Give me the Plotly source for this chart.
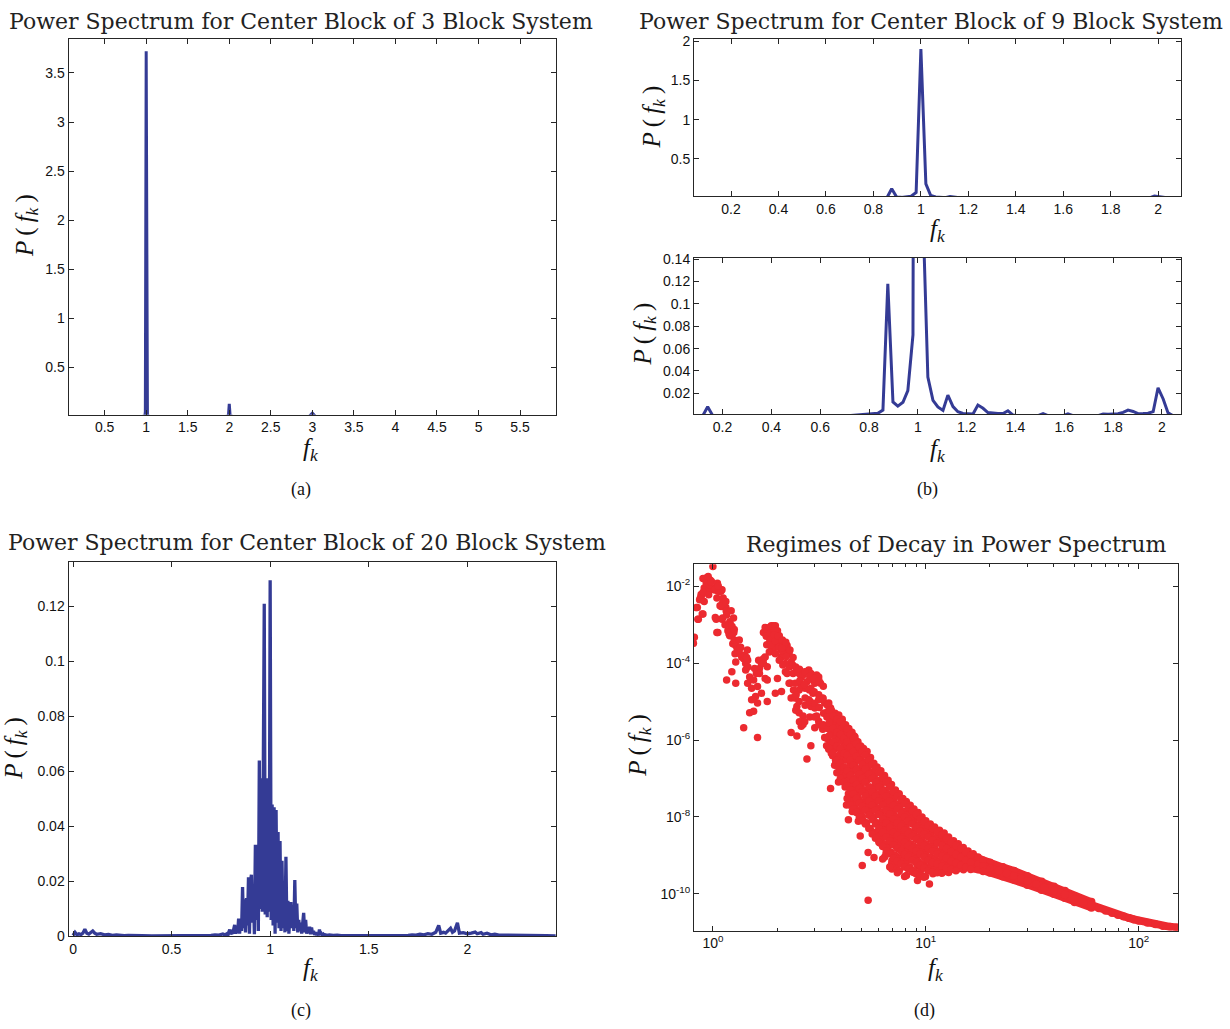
import numpy as np
import plotly.graph_objects as go

BLUE = "#343b95"
RED = "#ec2a30"
AXC = "#262626"

# ---------------- (a) 3 block system ----------------
A_F = [0.065, 0.950, 0.985, 0.990, 1.000, 1.010, 1.015, 1.050, 1.950, 1.990, 2.000, 2.010, 2.050,
       2.960, 3.000, 3.040, 5.930]
A_P = [0.0, 0.0, 0.01, 0.05, 3.72, 0.05, 0.01, 0.0, 0.0, 0.01, 0.13, 0.01, 0.0,
       0.0, 0.035, 0.0, 0.0]

# ---------------- (b) 9 block system ----------------
B_F = [0.037, 0.119, 0.139, 0.160,
       0.713, 0.734, 0.754, 0.775, 0.795, 0.816, 0.836, 0.857, 0.877, 0.898, 0.918, 0.939, 0.959, 0.980,
       1.000, 1.021, 1.041, 1.062, 1.082, 1.103, 1.123, 1.144, 1.164, 1.185, 1.205, 1.226, 1.246, 1.267,
       1.287, 1.308, 1.328, 1.349, 1.369, 1.390, 1.410,
       1.492, 1.513, 1.533, 1.595, 1.615, 1.636,
       1.738, 1.759, 1.779, 1.800, 1.820, 1.841, 1.861, 1.882, 1.902, 1.923, 1.943, 1.964, 1.984, 2.005,
       2.025, 2.046, 2.100]
B_P = [0.0, 0.0, 0.0080, 0.0,
       0.0, 0.0003, 0.0010, 0.0011, 0.0012, 0.0014, 0.0022, 0.0050, 0.1180, 0.0123, 0.0086, 0.0120, 0.0225, 0.0722,
       1.9000, 0.1800, 0.0345, 0.0138, 0.0079, 0.0047, 0.0184, 0.0082, 0.0035, 0.0020, 0.0017, 0.0015, 0.0095, 0.0066,
       0.0028, 0.0021, 0.0020, 0.0019, 0.0044, 0.0006, 0.0,
       0.0, 0.0018, 0.0, 0.0, 0.0016, 0.0,
       0.0, 0.0016, 0.0013, 0.0014, 0.0017, 0.0030, 0.0050, 0.0038, 0.0018, 0.0019, 0.0022, 0.0036, 0.0250, 0.0150,
       0.0025, 0.0, 0.0]

# ---------------- (c) 20 block system ----------------
C_F = [0.000, 0.010, 0.020, 0.030, 0.040, 0.050, 0.060, 0.070, 0.080, 0.090,
       0.100, 0.110, 0.120, 0.140, 0.160, 0.180, 0.200, 0.220, 0.240, 0.260,
       0.280, 0.300, 0.350, 0.400, 0.450, 0.500, 0.550, 0.600, 0.650, 0.700,
       0.720, 0.740, 0.760, 0.770,
       0.780, 0.785, 0.790, 0.795, 0.800, 0.805, 0.810, 0.815, 0.820, 0.825,
       0.830, 0.835, 0.840, 0.845, 0.850, 0.855, 0.860, 0.865, 0.870, 0.875,
       0.880, 0.885, 0.890, 0.895, 0.900, 0.905, 0.910, 0.915, 0.920, 0.925,
       0.930, 0.935, 0.940, 0.945, 0.950, 0.955, 0.960, 0.965, 0.970, 0.975,
       0.980, 0.985, 0.990, 0.995, 1.000, 1.005, 1.010, 1.015, 1.020, 1.025,
       1.030, 1.035, 1.040, 1.045, 1.050, 1.055, 1.060, 1.065, 1.070, 1.075,
       1.080, 1.085, 1.090, 1.095, 1.100, 1.105, 1.110, 1.115, 1.120, 1.125,
       1.130, 1.135, 1.140, 1.145, 1.150, 1.155, 1.160, 1.165, 1.170, 1.175,
       1.180, 1.185, 1.190, 1.195, 1.200, 1.205, 1.210, 1.215, 1.220, 1.225,
       1.230, 1.235, 1.240, 1.245, 1.250, 1.255, 1.260, 1.265, 1.270, 1.275,
       1.280,
       1.290, 1.300, 1.320, 1.340, 1.360, 1.400, 1.450, 1.500, 1.550, 1.600,
       1.650, 1.700, 1.720, 1.740, 1.760, 1.780, 1.800, 1.820, 1.840, 1.855,
       1.865, 1.880, 1.890, 1.905, 1.915, 1.925, 1.935, 1.950, 1.960, 1.980,
       2.000, 2.020, 2.040, 2.050, 2.070, 2.080, 2.100, 2.120, 2.140, 2.160,
       2.200, 2.250, 2.300, 2.350, 2.400, 2.449]
C_P = [0.0004, 0.0015, 0.0006, 0.0010, 0.0007, 0.0012, 0.0026, 0.0012, 0.0009, 0.0016,
       0.0020, 0.0012, 0.0008, 0.0010, 0.0006, 0.0007, 0.0004, 0.0006, 0.0004, 0.0003,
       0.0004, 0.0003, 0.0003, 0.0002, 0.0002, 0.0003, 0.0002, 0.0003, 0.0003, 0.0004,
       0.0006, 0.0005, 0.0009, 0.0006,
       0.0010, 0.0003, 0.0015, 0.0025, 0.0008, 0.0015, 0.0010, 0.0030, 0.0042, 0.0010,
       0.0035, 0.0012, 0.0065, 0.0010, 0.0060, 0.0020, 0.0180, 0.0030, 0.0135, 0.0015,
       0.0140, 0.0040, 0.0215, 0.0010, 0.0200, 0.0224, 0.0050, 0.0160, 0.0008, 0.0333,
       0.0060, 0.0333, 0.0020, 0.0640, 0.0100, 0.0575, 0.0090, 0.0575, 0.1210, 0.0080,
       0.0575, 0.0070, 0.0575, 0.0090, 0.1295, 0.0060, 0.0480, 0.0040, 0.0470, 0.0010,
       0.0460, 0.0050, 0.0380, 0.0030, 0.0347, 0.0020, 0.0275, 0.0030, 0.0130, 0.0015,
       0.0290, 0.0020, 0.0130, 0.0010, 0.0100, 0.0125, 0.0030, 0.0100, 0.0020, 0.0205,
       0.0030, 0.0120, 0.0015, 0.0060, 0.0020, 0.0050, 0.0010, 0.0040, 0.0086, 0.0015,
       0.0060, 0.0010, 0.0030, 0.0012, 0.0035, 0.0008, 0.0033, 0.0010, 0.0020, 0.0006,
       0.0015, 0.0005, 0.0012, 0.0004, 0.0025, 0.0006, 0.0010, 0.0004, 0.0008, 0.0003,
       0.0006,
       0.0004, 0.0006, 0.0004, 0.0005, 0.0003, 0.0003, 0.0002, 0.0003, 0.0002, 0.0002,
       0.0003, 0.0004, 0.0006, 0.0005, 0.0008, 0.0006, 0.0010, 0.0008, 0.0015, 0.0040,
       0.0012, 0.0015, 0.0012, 0.0025, 0.0030, 0.0015, 0.0020, 0.0050, 0.0012, 0.0014,
       0.0010, 0.0012, 0.0016, 0.0010, 0.0014, 0.0008, 0.0012, 0.0006, 0.0008, 0.0005,
       0.0005, 0.0004, 0.0004, 0.0003, 0.0003, 0.0002]

# ---------------- (d) regimes of decay (log-log scatter) ----------------
D_F = [0.81, 0.818, 0.836, 0.854, 0.873, 0.88, 0.891, 0.91,
       0.93, 0.942, 0.95, 0.97, 0.983, 1.0, 1.013, 1.026,
       1.044, 1.057, 1.08, 1.09, 1.103, 1.117, 1.127, 1.151,
       1.103, 1.044, 1.026, 1.176, 1.19, 1.2, 1.227, 1.254,
       1.24, 1.28, 1.227, 1.16, 1.28, 1.3, 1.27, 0.96,
       0.898, 0.93, 0.964, 0.98, 1.02, 1.074, 1.094, 0.882,
       0.866, 0.845, 0.85, 0.898, 1.11, 1.13, 1.094, 1.154,
       1.218, 1.036, 1.11, 1.055, 1.2, 1.23, 1.26, 1.21,
       1.31, 1.337, 1.366, 1.395, 1.425, 1.425, 1.456, 1.28,
       1.395, 1.456, 1.488, 1.52, 1.553, 1.586, 1.62, 1.488,
       1.553, 1.52, 1.62, 1.6, 1.655, 1.57, 1.69, 1.64,
       1.727, 1.35, 1.41, 1.44,
       1.727, 1.76, 1.8, 1.84, 1.88, 1.92, 1.965, 2.01,
       2.05, 1.965, 1.92, 1.84, 1.88, 1.965, 2.05, 2.14,
       2.19, 2.23, 2.28, 2.33, 1.965, 2.1, 2.14, 1.76,
       1.8, 1.727, 1.76, 1.8, 2.01, 1.965, 2.1, 2.23,
       2.28, 2.38, 2.33, 2.43, 1.655, 1.62, 1.69, 1.8,
       2.19, 2.05, 2.1, 2.01,
       2.48, 2.54, 2.6, 2.65, 2.765, 2.82, 2.885, 2.95,
       3.01, 2.765, 2.885, 3.07, 3.14, 3.2, 3.28, 3.35,
       3.39, 2.71, 2.54, 2.43, 2.48, 2.54, 2.65, 2.6,
       2.82, 2.885, 3.01, 3.07, 2.33, 2.48, 2.65, 2.885,
       2.765, 3.14, 3.28, 3.01, 2.71, 2.95, 3.14, 2.6,
       3.5, 3.57, 3.65, 3.73, 3.81, 3.89, 3.97, 4.06,
       4.15, 4.24, 3.81, 3.73, 3.57, 3.5, 3.42, 3.35,
       3.65, 3.73, 3.89, 4.06, 4.24, 4.42, 4.61, 4.71,
       4.82, 4.51, 4.24, 4.06, 3.89, 3.57, 4.33, 4.42,
       4.61, 4.82, 5.03, 5.14, 5.25, 5.47, 5.03, 4.71,
       4.42, 4.24, 4.51, 4.33, 5.03, 5.25, 5.47, 5.59,
       5.83, 5.71, 6.09, 6.22, 6.5, 6.78, 6.22, 5.96,
       5.47, 5.03, 4.82, 4.92, 5.36, 5.03, 5.71, 5.96,
       6.5, 5.36, 3.97, 4.15, 4.42, 4.61, 4.92, 5.25,
       5.36, 4.82, 5.14, 5.71, 3.65, 4.06, 4.33, 4.61,
       4.71,
       6.5, 6.64, 6.78, 7.08, 7.38, 7.7, 7.54, 7.08,
       6.93, 6.5, 6.22, 6.09, 6.5, 6.78, 7.08, 7.38,
       7.7, 7.87, 8.21, 8.39, 8.76, 9.14, 9.54, 8.76,
       8.39, 8.04, 7.7, 7.54, 7.38, 6.93, 7.87, 8.39,
       8.76, 9.34, 9.14, 8.95, 9.75, 9.96, 9.54, 9.14,
       9.96, 10.4, 9.96, 8.21, 7.23, 8.57, 8.04, 8.57,
       8.95, 9.34, 9.75, 7.87, 7.38, 8.21, 8.76, 9.34,
       8.39, 7.7, 6.93, 7.23, 9.14, 9.54, 6.78, 7.23,
       6.64, 6.36,
       10.4, 10.8, 10.6, 10.4, 10.8, 11.3, 11.8, 12.3,
       12.9, 13.4, 14.0, 14.6, 15.3, 15.9, 16.6, 17.3,
       18.1, 18.9, 11.3, 11.8, 12.3, 12.9, 13.4, 14.0,
       14.6, 15.3, 11.8, 11.0, 10.6, 12.3, 12.9, 12.0,
       11.5, 14.0, 14.9, 15.6, 16.3, 17.7, 19.3, 10.8,
       11.3, 11.0, 11.5, 12.6, 13.1, 13.7]
D_P = [3.3e-4, 4.7e-4, 2.8e-3, 1.4e-3, 5.0e-3, 6.1e-3, 1.9e-3, 9.1e-3,
       1.64e-2, 1.1e-2, 1.22e-2, 1.45e-2, 1.35e-2, 3.26e-2, 8.2e-3, 9.1e-3,
       5.0e-3, 7.4e-3, 3.1e-3, 7.4e-3, 8.2e-3, 5.0e-3, 3.4e-3, 2.8e-3,
       1.4e-3, 6.3e-4, 1.54e-3, 7.0e-4, 5.75e-4, 5.2e-4, 5.2e-4, 6.3e-4,
       3.2e-4, 2.9e-4, 6.0e-5, 3.65e-5, 3.0e-5, 2.37e-4, 1.76e-4, 8.0e-3,
       1.6e-2, 1.23e-2, 1.1e-2, 1.3e-2, 8.1e-3, 7.4e-3, 8.0e-3, 5.5e-3,
       4.5e-3, 2.8e-3, 1.4e-3, 1.9e-3, 3.7e-3, 3.0e-3, 3.0e-3, 2.3e-3,
       2.3e-3, 1.4e-3, 1.5e-3, 6.3e-4, 1.2e-3, 9.0e-4, 7.5e-4, 1.0e-3,
       2.15e-4, 1.76e-4, 1.45e-4, 1.31e-4, 9.8e-5, 6.6e-5, 1.19e-4, 1.08e-4,
       2.1e-6, 3.0e-5, 4.4e-5, 2.23e-5, 3.65e-5, 1.36e-5, 9.2e-6, 5.1e-6,
       5.6e-6, 1.12e-5, 1.16e-6, 5.4e-5, 7.3e-5, 7.3e-5, 9.8e-5, 1.19e-4,
       1.31e-4, 2.6e-4, 1.6e-4, 1.4e-4,
       6.3e-4, 8.5e-4, 7.0e-4, 8.5e-4, 9.4e-4, 9.4e-4, 9.4e-4, 7.0e-4,
       5.2e-4, 4.7e-4, 6.3e-4, 1.95e-4, 2.15e-4, 2.6e-4, 3.2e-4, 3.2e-4,
       2.37e-4, 2.9e-4, 1.76e-4, 1.08e-4, 1.76e-4, 1.45e-4, 1.76e-4, 1.45e-4,
       8.1e-5, 9.8e-5, 4.0e-5, 3.65e-5, 4.0e-5, 1.66e-5, 1.83e-5, 5.4e-5,
       3.0e-5, 5.4e-5, 1.24e-5, 1.24e-5, 5.4e-5, 2.46e-5, 1.66e-5, 1.0e-5,
       9.8e-5, 1.19e-4, 2.15e-4, 3.5e-4,
       6.6e-5, 5.4e-5, 4.4e-5, 4.9e-5, 6.0e-5, 6.6e-5, 5.4e-5, 3.65e-5,
       3.0e-5, 3.3e-5, 2.23e-5, 4.9e-5, 4.4e-5, 3.0e-5, 1.24e-5, 9.2e-6,
       5.1e-6, 2.23e-5, 2.0e-5, 1.36e-5, 7.5e-6, 5.1e-6, 4.2e-6, 2.3e-6,
       1.12e-5, 7.5e-6, 6.8e-6, 4.2e-6, 1.56e-6, 1.28e-6, 2.55e-6, 7.1e-7,
       3.2e-7, 3.1e-6, 1.9e-6, 2.1e-6, 1.24e-5, 1.66e-5, 1.12e-5, 2.7e-5,
       9.2e-6, 6.8e-6, 4.2e-6, 3.4e-6, 3.4e-6, 2.8e-6, 1.9e-6, 1.56e-6,
       1.28e-6, 1.28e-6, 1.9e-6, 1.56e-6, 8.6e-7, 5.8e-7, 7.1e-7, 1.16e-6,
       3.9e-7, 2.2e-7, 3.2e-7, 5.8e-7, 5.8e-7, 7.1e-7, 5.8e-7, 7.1e-7,
       4.8e-7, 3.2e-7, 1.79e-7, 1.2e-7, 8.1e-8, 5.5e-8, 6.7e-8, 4.5e-8,
       8.1e-8, 1.2e-7, 1.79e-7, 2.2e-7, 1.47e-7, 9.9e-8, 8.1e-8, 4.5e-8,
       3.0e-8, 2.05e-8, 1.38e-8, 8.4e-9, 1.68e-8, 2.5e-8, 3.7e-8, 5.5e-8,
       6.7e-8, 1.2e-7, 8.1e-8, 4.5e-8, 8.1e-8, 6.7e-8, 2.5e-8, 1.68e-8,
       1.38e-8, 1.03e-8, 7.7e-9, 3.2e-9, 1.18e-9, 5.4e-10, 8.8e-10, 4.2e-9,
       1.58e-9, 6.8e-11, 5.8e-7, 3.9e-7, 2.2e-7, 2.65e-7, 3.2e-7, 2.65e-7,
       1.2e-7, 3.0e-8, 4.5e-8, 3.0e-8, 1.56e-6, 2.8e-6, 8.6e-7, 1.28e-6,
       9.5e-7,
       3.7e-8, 2.5e-8, 2.05e-8, 3.0e-8, 2.05e-8, 2.8e-8, 1.68e-8, 1.13e-8,
       7.7e-9, 5.2e-9, 3.5e-9, 2.1e-9, 1.07e-9, 1.93e-9, 3.5e-9, 5.2e-9,
       9.3e-9, 1.13e-8, 1.38e-8, 1.68e-8, 1.13e-8, 9.3e-9, 8.4e-9, 6.5e-9,
       4.2e-9, 3.2e-9, 2.35e-9, 1.58e-9, 8.8e-10, 4.4e-10, 6.5e-10, 4.85e-10,
       3.6e-10, 3.0e-10, 2.2e-10, 8.8e-10, 5.9e-10, 1.3e-9, 1.93e-9, 2.86e-9,
       3.5e-9, 1.8e-10, 8.8e-10, 1.3e-9, 1.75e-9, 1.58e-9, 6.5e-9, 7.7e-9,
       4.7e-9, 5.7e-9, 5.2e-9, 4.2e-9, 1.93e-9, 2.1e-9, 1.3e-9, 1.07e-9,
       7.9e-10, 8.8e-10, 7.2e-10, 4.85e-10, 5.4e-10, 4.4e-10, 1.68e-8, 7.7e-9,
       1.13e-8, 7.7e-9,
       4.7e-9, 4.2e-9, 2.6e-9, 1.58e-9, 1.58e-9, 2.35e-9, 2.86e-9, 2.6e-9,
       2.1e-9, 1.58e-9, 1.44e-9, 1.18e-9, 9.7e-10, 8.8e-10, 7.9e-10, 6.5e-10,
       5.9e-10, 5.4e-10, 1.07e-9, 7.2e-10, 4.85e-10, 5.4e-10, 6.5e-10, 7.2e-10,
       5.9e-10, 4.85e-10, 3.6e-10, 4.85e-10, 6.5e-10, 1.07e-9, 8.8e-10, 1.44e-9,
       5.9e-10, 9.7e-10, 7.9e-10, 6.5e-10, 5.9e-10, 4.85e-10, 4.4e-10, 3.3e-10,
       4.0e-10, 1.93e-9, 3.5e-9, 1.58e-9, 1.18e-9, 8.8e-10]

# denser parts of the same cloud
D2_F = [0.90, 0.91, 0.95, 0.955, 1.05, 1.06, 1.15, 1.16, 1.14, 1.25, 1.26, 1.33, 1.34, 1.45, 1.46,
        1.78, 1.79, 1.86, 1.85, 1.87, 1.95, 1.94, 1.96, 2.03, 2.04, 2.12, 2.11, 2.13, 2.2, 2.21, 2.19,
        2.3, 2.29, 2.31, 2.38, 2.37, 2.39,
        2.45, 2.44, 2.46, 2.45, 2.55, 2.56, 2.54, 2.55, 2.7, 2.69, 2.71, 2.7, 2.85, 2.84, 2.86, 2.85,
        3.0, 2.99, 3.01, 3.0, 3.15, 3.14, 3.16, 3.15, 3.3, 3.29, 3.31, 3.3,
        3.45, 3.43, 3.47, 3.44,
        3.6, 3.61, 3.59, 3.62, 3.6,
        3.75, 3.74, 3.76, 3.75, 3.77,
        3.9, 3.91, 3.89, 3.92, 3.9,
        4.05, 4.04, 4.06, 4.05, 4.07,
        4.2, 4.21, 4.19, 4.22, 4.2, 4.18,
        4.35, 4.36, 4.34, 4.37, 4.35, 4.33,
        4.5, 4.51, 4.49, 4.52, 4.5, 4.48,
        4.65, 4.66, 4.64, 4.67, 4.65, 4.63,
        4.8, 4.81, 4.79, 4.82, 4.8, 4.78,
        4.95, 4.96, 4.94, 4.97, 4.95, 4.93,
        5.1, 5.11, 5.09, 5.12, 5.1, 5.08,
        5.3, 5.31, 5.29, 5.32, 5.3, 5.28,
        5.5, 5.51, 5.49, 5.52, 5.5, 5.48,
        5.7, 5.71, 5.69, 5.72, 5.7, 5.68,
        5.9, 5.91, 5.89, 5.92, 5.9, 5.88,
        6.15, 6.16, 6.14, 6.17, 6.15, 6.13,
        6.4, 6.41, 6.39, 6.42, 6.4, 6.38, 6.41,
        6.65, 6.66, 6.64, 6.67, 6.65, 6.63,
        6.9, 6.91, 6.89, 6.92, 6.9, 6.88, 6.91,
        7.2, 7.21, 7.19, 7.22, 7.2, 7.18,
        7.5, 7.51, 7.49, 7.52, 7.5, 7.48, 7.51,
        7.8, 7.81, 7.79, 7.82, 7.8, 7.78,
        8.1, 8.11, 8.09, 8.12, 8.1, 8.08, 8.11,
        8.45, 8.46, 8.44, 8.47, 8.45, 8.43,
        8.8, 8.81, 8.79, 8.82, 8.8, 8.78,
        9.2, 9.21, 9.19, 9.22, 9.2, 9.18,
        9.6, 9.61, 9.59, 9.62, 9.6, 9.58,
        10.0, 10.02, 9.98, 10.03, 10.0, 9.97,
        10.5, 10.52, 10.48, 10.53, 10.5,
        11.0, 11.02, 10.98, 11.03, 11.0,
        11.6, 11.62, 11.58, 11.63, 11.6,
        12.2, 12.22, 12.18, 12.23, 12.2,
        12.8, 12.82, 12.78, 12.83, 12.8,
        13.5, 13.52, 13.48, 13.53,
        14.2, 14.22, 14.18, 14.23,
        15.0, 15.02, 14.98, 15.03,
        15.8, 15.82, 15.78,
        16.7, 16.72, 16.68,
        17.6, 17.62, 17.58,
        18.6, 18.62, 18.58]
D2_P = [7e-3, 4e-3, 1.8e-2, 6e-3, 1.2e-2, 1e-2, 4e-3, 1.8e-3, 1e-3, 1.5e-3, 4e-4, 4e-4, 2.5e-4, 2.2e-4, 8e-5,
        5e-4, 3e-4, 6e-4, 4e-4, 3e-4, 7e-4, 5.5e-4, 3.8e-4, 5e-4, 2.6e-4, 4e-4, 2.5e-4, 9e-5, 3.5e-4, 1.5e-4, 6e-5,
        2.2e-4, 8e-5, 3e-5, 1.4e-4, 9e-5, 2e-5,
        8e-5, 3e-5, 1.5e-5, 6e-6, 7e-5, 3.5e-5, 1e-5, 3e-6, 6e-5, 2.8e-5, 8e-6, 3e-6, 4.5e-5, 2e-5, 1e-5, 4e-6,
        4e-5, 1.8e-5, 9e-6, 4e-6, 3.5e-5, 1.5e-5, 7e-6, 2.5e-6, 2.5e-5, 1.2e-5, 5e-6, 2.5e-6,
        8e-6, 4e-6, 2e-6, 1.1e-6,
        6e-6, 3e-6, 1.5e-6, 8e-7, 4.5e-7,
        5e-6, 2.5e-6, 1.2e-6, 6e-7, 3e-7,
        4.5e-6, 2.2e-6, 1e-6, 4e-7, 2e-7,
        3.5e-6, 2e-6, 9e-7, 3e-7, 1.5e-7,
        2.5e-6, 1.6e-6, 7e-7, 3e-7, 1.2e-7, 6e-8,
        2e-6, 1e-6, 5e-7, 2e-7, 9e-8, 4e-8,
        1.6e-6, 8e-7, 4e-7, 1.5e-7, 6e-8, 2.5e-8,
        1.2e-6, 6e-7, 2.5e-7, 1e-7, 5e-8, 2e-8,
        9e-7, 4e-7, 1.8e-7, 8e-8, 3.5e-8, 1.5e-8,
        7e-7, 3e-7, 1.4e-7, 6e-8, 2.5e-8, 1.2e-8,
        6e-7, 2.5e-7, 1.1e-7, 5e-8, 2e-8, 8e-9,
        5e-7, 2e-7, 9e-8, 4e-8, 1.8e-8, 7e-9,
        3.5e-7, 1.5e-7, 6e-8, 3e-8, 1.3e-8, 5e-9,
        2.5e-7, 1.1e-7, 5e-8, 2.2e-8, 1e-8, 4e-9,
        2e-7, 9e-8, 4e-8, 1.7e-8, 7e-9, 3e-9,
        1.6e-7, 7e-8, 3e-8, 1.3e-8, 6e-9, 2.5e-9,
        1.2e-7, 5e-8, 2.2e-8, 1e-8, 4.5e-9, 2e-9, 9e-10,
        9e-8, 4e-8, 1.8e-8, 8e-9, 3.5e-9, 1.5e-9,
        7e-8, 3e-8, 1.4e-8, 6e-9, 2.8e-9, 1.2e-9, 6e-10,
        5e-8, 2.2e-8, 1e-8, 5e-9, 2.3e-9, 1e-9,
        4e-8, 1.8e-8, 8e-9, 4e-9, 1.8e-9, 8e-10, 4e-10,
        3e-8, 1.4e-8, 6.5e-9, 3e-9, 1.5e-9, 7e-10,
        2.5e-8, 1.1e-8, 5e-9, 2.5e-9, 1.2e-9, 6e-10, 3e-10,
        2e-8, 9e-9, 4e-9, 2e-9, 1e-9, 5e-10,
        1.6e-8, 7e-9, 3.5e-9, 1.7e-9, 8e-10, 4e-10,
        1.3e-8, 6e-9, 3e-9, 1.5e-9, 7e-10, 3.5e-10,
        1e-8, 5e-9, 2.5e-9, 1.2e-9, 6e-10, 3e-10,
        8e-9, 4e-9, 2e-9, 1e-9, 5e-10, 2.8e-10,
        6.5e-9, 3.3e-9, 1.7e-9, 9e-10, 4.5e-10,
        5.5e-9, 2.8e-9, 1.5e-9, 8e-10, 4.2e-10,
        4.5e-9, 2.4e-9, 1.3e-9, 7e-10, 4e-10,
        3.8e-9, 2e-9, 1.1e-9, 6.5e-10, 3.8e-10,
        3e-9, 1.7e-9, 9.5e-10, 5.5e-10, 3.6e-10,
        2.4e-9, 1.4e-9, 8e-10, 5e-10,
        2e-9, 1.2e-9, 7e-10, 4.5e-10,
        1.6e-9, 1e-9, 6e-10, 4.2e-10,
        1.3e-9, 8.5e-10, 5.5e-10,
        1.1e-9, 7e-10, 4.8e-10,
        9e-10, 6e-10, 4.2e-10,
        7.5e-10, 5.2e-10, 3.8e-10]

# more of the dense band between f = 3.5 and 16
D3_F = [3.52, 3.52, 3.52, 3.52,
        3.67, 3.67, 3.67, 3.67,
        3.82, 3.82, 3.82, 3.82, 3.82,
        3.97, 3.97, 3.97, 3.97, 3.97,
        4.12, 4.12, 4.12, 4.12, 4.12,
        4.27, 4.27, 4.27, 4.27, 4.27, 4.27,
        4.42, 4.42, 4.42, 4.42, 4.42, 4.42,
        4.57, 4.57, 4.57, 4.57, 4.57, 4.57,
        4.72, 4.72, 4.72, 4.72, 4.72, 4.72,
        4.87, 4.87, 4.87, 4.87, 4.87, 4.87,
        5.02, 5.02, 5.02, 5.02, 5.02, 5.02,
        5.2, 5.2, 5.2, 5.2, 5.2, 5.2,
        5.4, 5.4, 5.4, 5.4, 5.4, 5.4,
        5.6, 5.6, 5.6, 5.6, 5.6, 5.6,
        5.8, 5.8, 5.8, 5.8, 5.8, 5.8,
        6.02, 6.02, 6.02, 6.02, 6.02, 6.02,
        6.27, 6.27, 6.27, 6.27, 6.27, 6.27, 6.27,
        6.52, 6.52, 6.52, 6.52, 6.52, 6.52,
        6.77, 6.77, 6.77, 6.77, 6.77, 6.77, 6.77,
        7.05, 7.05, 7.05, 7.05, 7.05, 7.05,
        7.35, 7.35, 7.35, 7.35, 7.35, 7.35, 7.35,
        7.65, 7.65, 7.65, 7.65, 7.65, 7.65,
        7.95, 7.95, 7.95, 7.95, 7.95, 7.95, 7.95,
        8.27, 8.27, 8.27, 8.27, 8.27, 8.27,
        8.62, 8.62, 8.62, 8.62, 8.62, 8.62,
        9.0, 9.0, 9.0, 9.0, 9.0, 9.0,
        9.4, 9.4, 9.4, 9.4, 9.4, 9.4,
        9.8, 9.8, 9.8, 9.8, 9.8, 9.8,
        10.25, 10.25, 10.25, 10.25, 10.25,
        10.75, 10.75, 10.75, 10.75, 10.75,
        11.3, 11.3, 11.3, 11.3, 11.3,
        11.9, 11.9, 11.9, 11.9, 11.9,
        12.5, 12.5, 12.5, 12.5,
        13.15, 13.15, 13.15, 13.15,
        13.85, 13.85, 13.85, 13.85,
        14.6, 14.6, 14.6,
        15.4, 15.4, 15.4,
        16.25, 16.25, 16.25]
D3_P = [6e-6, 2.8e-6, 1.3e-6, 6e-7,
        4.2e-6, 2e-6, 9e-7, 4.5e-7,
        3.5e-6, 1.6e-6, 7e-7, 3e-7, 1.4e-7,
        3e-6, 1.4e-6, 6e-7, 2.5e-7, 1e-7,
        2.4e-6, 1.1e-6, 4.5e-7, 2e-7, 8e-8,
        1.9e-6, 9e-7, 4e-7, 1.6e-7, 6.5e-8, 3e-8,
        1.4e-6, 6.5e-7, 3e-7, 1.2e-7, 5e-8, 2e-8,
        1.1e-6, 5e-7, 2.2e-7, 9e-8, 4e-8, 1.6e-8,
        8e-7, 3.8e-7, 1.7e-7, 7e-8, 3e-8, 1.3e-8,
        6.5e-7, 3e-7, 1.3e-7, 5.5e-8, 2.3e-8, 1e-8,
        5e-7, 2.3e-7, 1e-7, 4.5e-8, 1.9e-8, 8e-9,
        4e-7, 1.8e-7, 8e-8, 3.5e-8, 1.5e-8, 6.5e-9,
        3e-7, 1.3e-7, 6e-8, 2.6e-8, 1.1e-8, 5e-9,
        2.3e-7, 1e-7, 4.5e-8, 2e-8, 8.5e-9, 3.6e-9,
        1.8e-7, 8e-8, 3.5e-8, 1.5e-8, 6.5e-9, 2.8e-9,
        1.4e-7, 6e-8, 2.6e-8, 1.15e-8, 5e-9, 2.2e-9,
        1.05e-7, 4.6e-8, 2e-8, 9e-9, 4e-9, 1.7e-9, 8e-10,
        8e-8, 3.5e-8, 1.5e-8, 7e-9, 3e-9, 1.3e-9,
        6e-8, 2.6e-8, 1.2e-8, 5.3e-9, 2.4e-9, 1.1e-9, 5e-10,
        4.5e-8, 2e-8, 9e-9, 4e-9, 1.9e-9, 8.5e-10,
        3.5e-8, 1.6e-8, 7e-9, 3.3e-9, 1.5e-9, 7e-10, 3.5e-10,
        2.8e-8, 1.25e-8, 5.7e-9, 2.7e-9, 1.3e-9, 6e-10,
        2.2e-8, 1e-8, 4.5e-9, 2.2e-9, 1.05e-9, 5e-10, 2.8e-10,
        1.8e-8, 8e-9, 3.7e-9, 1.8e-9, 9e-10, 4.4e-10,
        1.45e-8, 6.5e-9, 3.1e-9, 1.5e-9, 7.5e-10, 3.8e-10,
        1.15e-8, 5.3e-9, 2.6e-9, 1.3e-9, 6.5e-10, 3.3e-10,
        9e-9, 4.3e-9, 2.2e-9, 1.1e-9, 5.5e-10, 2.9e-10,
        7.5e-9, 3.6e-9, 1.8e-9, 9e-10, 4.7e-10, 2.7e-10,
        6e-9, 3e-9, 1.5e-9, 7.5e-10, 4e-10,
        5e-9, 2.5e-9, 1.3e-9, 6.5e-10, 3.7e-10,
        4.2e-9, 2.1e-9, 1.1e-9, 6e-10, 3.5e-10,
        3.4e-9, 1.8e-9, 9.5e-10, 5.2e-10, 3.4e-10,
        2.8e-9, 1.5e-9, 8.5e-10, 4.7e-10,
        2.2e-9, 1.25e-9, 7e-10, 4.3e-10,
        1.8e-9, 1.05e-9, 6.2e-10, 4e-10,
        1.5e-9, 9e-10, 5.5e-10,
        1.2e-9, 7.5e-10, 4.8e-10,
        1e-9, 6.5e-10, 4.3e-10]

TAIL_F = [19, 20, 22, 24, 26, 28, 30, 33, 36, 40, 45, 50, 55, 60, 65, 70, 75, 80, 85, 90, 95, 100,
          110, 120, 130, 140, 150, 153]
TAIL_P = [5.1e-10, 4.7e-10, 4.0e-10, 3.4e-10, 2.9e-10, 2.5e-10, 2.15e-10, 1.8e-10, 1.45e-10, 1.2e-10,
          9.5e-11, 7.2e-11, 5.9e-11, 5.0e-11, 4.2e-11, 3.6e-11, 3.15e-11, 2.8e-11, 2.55e-11, 2.35e-11,
          2.15e-11, 2.0e-11, 1.75e-11, 1.6e-11, 1.45e-11, 1.38e-11, 1.32e-11, 1.3e-11]
EDGE_F = [15, 17, 20, 23, 26, 30, 35, 40, 45, 50, 60]
EDGE_UP_P = [1.2e-9, 9.0e-10, 6.5e-10, 5.0e-10, 4.0e-10, 2.9e-10, 2.1e-10, 1.55e-10, 1.2e-10, 8.8e-11, 6.2e-11]
EDGE_LO_P = [6.0e-10, 4.5e-10, 3.5e-10, 2.8e-10, 2.3e-10, 1.7e-10, 1.25e-10, 9.8e-11, 7.8e-11, 6.0e-11, 4.3e-11]

assert len(A_F) == len(A_P) and len(B_F) == len(B_P) and len(C_F) == len(C_P)
assert len(D_F) == len(D_P) and len(D2_F) == len(D2_P) and len(D3_F) == len(D3_P)
assert len(TAIL_F) == len(TAIL_P) and len(EDGE_F) == len(EDGE_UP_P) == len(EDGE_LO_P)

# ---------------- tick labels ----------------
A_XT = [0.5, 1, 1.5, 2, 2.5, 3, 3.5, 4, 4.5, 5, 5.5]
A_XL = ["0.5", "1", "1.5", "2", "2.5", "3", "3.5", "4", "4.5", "5", "5.5"]
A_YT = [0.5, 1, 1.5, 2, 2.5, 3, 3.5]
A_YL = ["0.5", "1", "1.5", "2", "2.5", "3", "3.5"]
B_XT = [0.2, 0.4, 0.6, 0.8, 1.0, 1.2, 1.4, 1.6, 1.8, 2.0]
B_XL = ["0.2", "0.4", "0.6", "0.8", "1", "1.2", "1.4", "1.6", "1.8", "2"]
B1_YT = [0.5, 1, 1.5, 2]
B1_YL = ["0.5", "1", "1.5", "2"]
B2_YT = [0.02, 0.04, 0.06, 0.08, 0.10, 0.12, 0.14]
B2_YL = ["0.02", "0.04", "0.06", "0.08", "0.1", "0.12", "0.14"]
C_XT = [0, 0.5, 1, 1.5, 2]
C_XL = ["0", "0.5", "1", "1.5", "2"]
C_YT = [0, 0.02, 0.04, 0.06, 0.08, 0.10, 0.12]
C_YL = ["0", "0.02", "0.04", "0.06", "0.08", "0.1", "0.12"]
D_XT = [1, 10, 100]
D_XL = ["10<sup>0</sup>", "10<sup>1</sup>", "10<sup>2</sup>"]
D_XMINOR = [2, 3, 4, 5, 6, 7, 8, 9, 20, 30, 40, 50, 60, 70, 80, 90]
D_YT = [1e-10, 1e-8, 1e-6, 1e-4, 1e-2]
D_YL = ["10<sup>-10</sup>", "10<sup>-8</sup>", "10<sup>-6</sup>", "10<sup>-4</sup>", "10<sup>-2</sup>"]

W, H = 1230, 1029


def px(x):
    return x / W


def py(y):
    return 1 - y / H


TICKFONT = dict(family="Liberation Sans, Arial, sans-serif", size=14, color="#111111")


def axis(domain, anchor, **kw):
    d = dict(domain=domain, anchor=anchor, showline=True, linecolor=AXC, linewidth=1,
             mirror="ticks", ticks="inside", ticklen=5, tickwidth=1, tickcolor=AXC,
             showgrid=False, zeroline=False, tickfont=TICKFONT, tickmode="array",
             fixedrange=True)
    d.update(kw)
    return d


fig = go.Figure()
common = dict(mode="lines", showlegend=False, hoverinfo="skip")
fig.add_trace(go.Scatter(x=A_F, y=A_P, line=dict(color=BLUE, width=3), xaxis="x", yaxis="y", **common))
fig.add_trace(go.Scatter(x=B_F, y=B_P, line=dict(color=BLUE, width=3), xaxis="x2", yaxis="y2", **common))
fig.add_trace(go.Scatter(x=B_F, y=B_P, line=dict(color=BLUE, width=3), xaxis="x3", yaxis="y3", **common))
fig.add_trace(go.Scatter(x=C_F, y=C_P, line=dict(color=BLUE, width=3.3), xaxis="x4", yaxis="y4", **common))
# (d)
for ep in (EDGE_UP_P, EDGE_LO_P):
    fig.add_trace(go.Scatter(x=EDGE_F, y=ep, mode="lines+markers", line=dict(color=RED, width=7),
                             marker=dict(color=RED, size=8), xaxis="x5", yaxis="y5",
                             showlegend=False, hoverinfo="skip"))
fig.add_trace(go.Scatter(x=TAIL_F, y=TAIL_P, mode="lines+markers", line=dict(color=RED, width=8),
                         marker=dict(color=RED, size=8), xaxis="x5", yaxis="y5", showlegend=False,
                         hoverinfo="skip"))
fig.add_trace(go.Scatter(x=D_F + D2_F + D3_F, y=D_P + D2_P + D3_P, mode="markers",
                         marker=dict(color=RED, size=7.5, line=dict(width=0)),
                         xaxis="x5", yaxis="y5", showlegend=False, hoverinfo="skip"))

XL, XR = px(68.5), px(555.8)
X2L, X2R = px(694), px(1181)
fig.update_layout(
    width=W, height=H, margin=dict(l=0, r=0, t=0, b=0),
    paper_bgcolor="white", plot_bgcolor="white", hovermode=False,
    xaxis=axis([XL, XR], "y", range=[0.065, 5.93], tickvals=A_XT, ticktext=A_XL),
    yaxis=axis([py(414.3), py(33.3)], "x", range=[0.02, 3.847], tickvals=A_YT, ticktext=A_YL),
    xaxis2=axis([X2L, X2R], "y2", range=[0.044, 2.096], tickvals=B_XT, ticktext=B_XL),
    yaxis2=axis([py(192.7), py(33.3)], "x2", range=[0.025, 2.03], tickvals=B1_YT, ticktext=B1_YL),
    xaxis3=axis([X2L, X2R], "y3", range=[0.083, 2.078], tickvals=B_XT, ticktext=B_XL),
    yaxis3=axis([py(414.0), py(255.0)], "x3", range=[0.0012, 0.1415], tickvals=B2_YT, ticktext=B2_YL),
    xaxis4=axis([XL, XR], "y4", range=[-0.023, 2.449], tickvals=C_XT, ticktext=C_XL),
    yaxis4=axis([py(943.3), py(563.3)], "x4", range=[0, 0.1363], tickvals=C_YT, ticktext=C_YL),
    xaxis5=axis([X2L, px(1178)], "y5", type="log", range=[np.log10(0.815), np.log10(153)],
                tickvals=D_XT, ticktext=D_XL,
                minor=dict(tickmode="array", tickvals=D_XMINOR, ticks="inside", ticklen=3,
                           tickcolor=AXC, showgrid=False)),
    yaxis5=axis([py(937.3), py(566)], "x5", type="log", range=[-10.957, -1.427],
                tickvals=D_YT, ticktext=D_YL),
)

TITLE_FONT = dict(family="DejaVu Serif, serif", size=22, color="#222222")
LABEL_FONT = dict(family="Liberation Serif, serif", size=25, color="#111111")
SUB_FONT = dict(family="Liberation Serif, serif", size=18, color="#111111")

annotations = []
for text, x, y in [("Power Spectrum for Center Block of 3 Block System", 301, 16),
                   ("Power Spectrum for Center Block of 9 Block System", 931, 16),
                   ("Power Spectrum for Center Block of 20 Block System", 307, 544),
                   ("Regimes of Decay in Power Spectrum", 956, 546)]:
    annotations.append(dict(text=text, x=px(x), y=py(y), xref="paper", yref="paper",
                            xanchor="center", yanchor="middle", showarrow=False, font=TITLE_FONT))
PLABEL = "<i>P</i>\u2009(\u2009<i>f<sub>k</sub></i>\u2009)"
for x, y in [(27, 223), (653, 113), (644, 333), (16, 753), (640, 750)]:
    annotations.append(dict(text=PLABEL, x=px(x), y=py(y), xref="paper",
                            yref="paper", xanchor="center", yanchor="middle", textangle=-90,
                            showarrow=False, font=LABEL_FONT))
for x, y in [(311, 450), (938, 228), (938, 451), (311, 977), (936, 977)]:
    annotations.append(dict(text="<i>f<sub>k</sub></i>", x=px(x), y=py(y), xref="paper", yref="paper",
                            xanchor="center", yanchor="middle", showarrow=False, font=LABEL_FONT))
for text, x, y in [("(a)", 301, 490), ("(b)", 927, 490), ("(c)", 301, 1018), ("(d)", 924, 1018)]:
    annotations.append(dict(text=text, x=px(x), y=py(y), xref="paper", yref="paper",
                            xanchor="center", yanchor="middle", showarrow=False, font=SUB_FONT))
fig.update_layout(annotations=annotations)

fig.write_html("out.html")
